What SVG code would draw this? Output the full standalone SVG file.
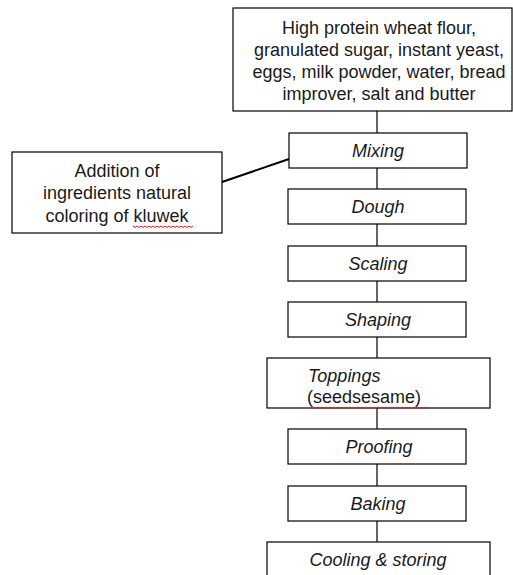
<svg xmlns="http://www.w3.org/2000/svg" width="513" height="575" viewBox="0 0 513 575">
<defs>
<style>
.box{fill:#fff;stroke:#000;stroke-width:1.2}
.t{font-family:"Liberation Sans",Arial,sans-serif;font-size:18px;fill:#1a1a1a}
.c{text-anchor:middle}
.i{font-style:italic}
.conn{stroke:#000;stroke-width:1.2;fill:none}
.wavy{stroke:#d42020;stroke-width:1;fill:none}
</style>
</defs>
<rect width="513" height="575" fill="#fff"/>
<g id="connectors">
<line class="conn" x1="377" y1="111" x2="377" y2="133"/>
<line class="conn" x1="377" y1="168" x2="377" y2="189"/>
<line class="conn" x1="377" y1="224" x2="377" y2="246"/>
<line class="conn" x1="377" y1="281" x2="377" y2="302"/>
<line class="conn" x1="377" y1="337" x2="377" y2="358"/>
<line class="conn" x1="377" y1="408" x2="377" y2="429"/>
<line class="conn" x1="377" y1="464" x2="377" y2="486"/>
<line class="conn" x1="377" y1="521" x2="377" y2="542"/>
<line x1="222" y1="182" x2="289" y2="159" stroke="#000" stroke-width="2"/>
</g>
<g id="ingredients">
<rect class="box" x="233" y="8" width="279" height="103"/>
<text class="t c" x="379" y="34">High protein wheat flour,</text>
<text class="t c" x="379" y="56">granulated sugar, instant yeast,</text>
<text class="t c" x="379" y="78">eggs, milk powder, water, bread</text>
<text class="t c" x="379" y="100">improver, salt and butter</text>
</g>
<g id="addition">
<rect class="box" x="12" y="152" width="210" height="81"/>
<text class="t c" x="117" y="177">Addition of</text>
<text class="t c" x="117" y="199">ingredients natural</text>
<text class="t c" x="117" y="222">coloring of kluwek</text>
<path class="wavy" d="M133 226 l2 1.5 l2 -1.5 l2 1.5 l2 -1.5 l2 1.5 l2 -1.5 l2 1.5 l2 -1.5 l2 1.5 l2 -1.5 l2 1.5 l2 -1.5 l2 1.5 l2 -1.5 l2 1.5 l2 -1.5 l2 1.5 l2 -1.5 l2 1.5 l2 -1.5 l2 1.5 l2 -1.5 l2 1.5 l2 -1.5 l2 1.5 l2 -1.5 l2 1.5 l2 -1.5 l2 1.5 l2 -1.5"/>
</g>
<g id="mixing">
<rect class="box" x="289" y="133" width="178" height="35"/>
<text class="t c i" x="378" y="157">Mixing</text>
</g>
<g id="dough">
<rect class="box" x="288" y="189" width="178" height="35"/>
<text class="t c i" x="378" y="213">Dough</text>
</g>
<g id="scaling">
<rect class="box" x="288" y="246" width="178" height="35"/>
<text class="t c i" x="378" y="270">Scaling</text>
</g>
<g id="shaping">
<rect class="box" x="288" y="302" width="178" height="35"/>
<text class="t c i" x="378" y="326">Shaping</text>
</g>
<g id="toppings">
<rect class="box" x="267" y="358" width="223" height="50"/>
<text class="t i" x="308" y="382">Toppings</text>
<text class="t" x="307" y="403">(seedsesame)</text>
<path class="wavy" d="M310 407 l2 1.5 l2 -1.5 l2 1.5 l2 -1.5 l2 1.5 l2 -1.5 l2 1.5 l2 -1.5 l2 1.5 l2 -1.5 l2 1.5 l2 -1.5 l2 1.5 l2 -1.5 l2 1.5 l2 -1.5 l2 1.5 l2 -1.5 l2 1.5 l2 -1.5 l2 1.5 l2 -1.5 l2 1.5 l2 -1.5 l2 1.5 l2 -1.5 l2 1.5 l2 -1.5 l2 1.5 l2 -1.5 l2 1.5 l2 -1.5 l2 1.5 l2 -1.5 l2 1.5 l2 -1.5 l2 1.5 l2 -1.5 l2 1.5 l2 -1.5 l2 1.5 l2 -1.5 l2 1.5 l2 -1.5 l2 1.5 l2 -1.5 l2 1.5 l2 -1.5 l2 1.5 l2 -1.5 l2 1.5 l2 -1.5 l2 1.5 l2 -1.5 l2 1.5 l2 -1.5 l2 1.5 l2 -1.5 l2 1.5"/>
</g>
<g id="proofing">
<rect class="box" x="288" y="429" width="178" height="35"/>
<text class="t c i" x="379" y="453">Proofing</text>
</g>
<g id="baking">
<rect class="box" x="288" y="486" width="178" height="35"/>
<text class="t c i" x="378" y="510">Baking</text>
</g>
<g id="cooling">
<rect class="box" x="267" y="542" width="223" height="40"/>
<text class="t c i" x="378" y="566">Cooling &amp; storing</text>
</g>
</svg>
